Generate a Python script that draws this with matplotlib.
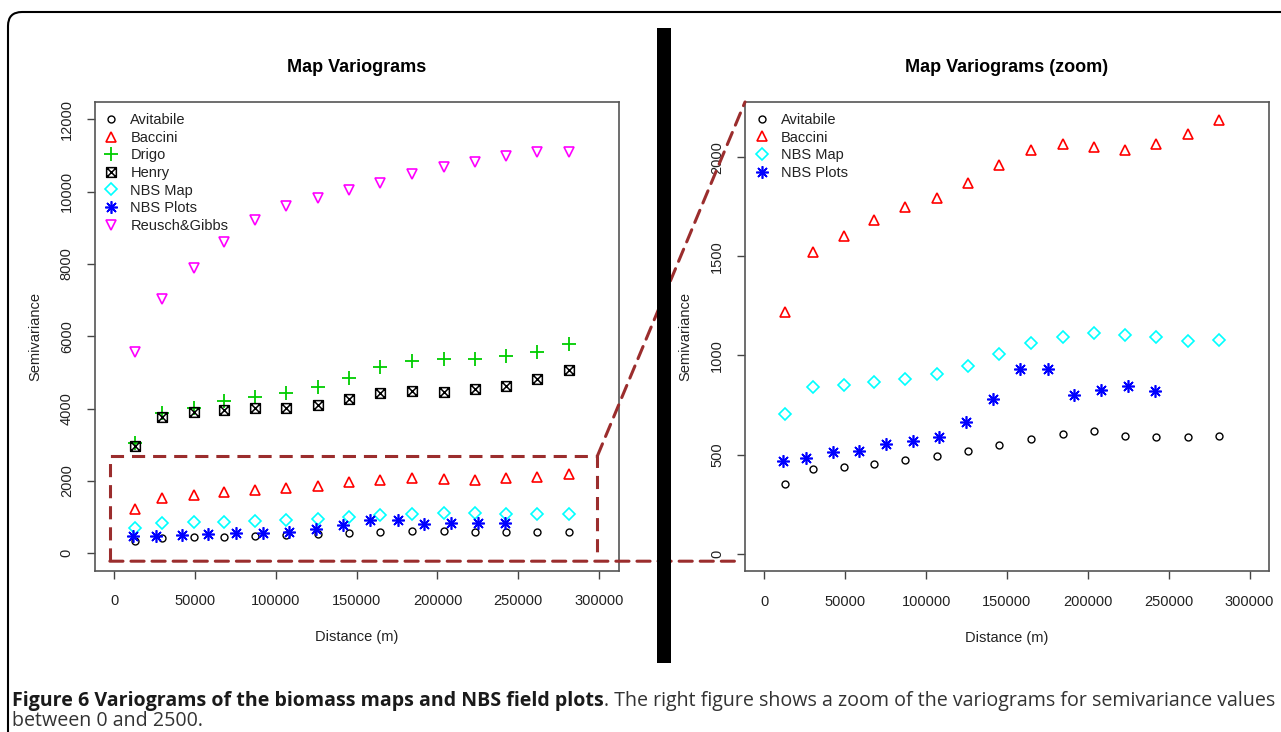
import numpy as np
import matplotlib
matplotlib.use("Agg")
import matplotlib.pyplot as plt
from matplotlib.path import Path
from matplotlib.patches import Rectangle, FancyBboxPatch, ConnectionPatch
from matplotlib.transforms import blended_transform_factory

plt.rcParams["font.family"] = ["Liberation Sans", "DejaVu Sans"]
plt.rcParams["font.size"] = 10.5
plt.rcParams["text.color"] = "#222222"
plt.rcParams["axes.labelcolor"] = "#222222"
plt.rcParams["xtick.color"] = "#444444"
plt.rcParams["ytick.color"] = "#444444"
plt.rcParams["xtick.labelcolor"] = "#222222"
plt.rcParams["ytick.labelcolor"] = "#222222"

# lag distances (m)
lags = [12700, 29900, 49200, 67800, 87200, 106500, 125900, 145200,
        164600, 184400, 203800, 223100, 242400, 261800, 281100]
lags_plots = [11500, 26000, 42100, 58300, 75200, 91800, 108000, 124900,
              141300, 158200, 175300, 191500, 208200, 225100, 241500]

# semivariance per map
avitabile = [350, 426, 436, 454, 473, 493, 517, 546, 579, 603, 617, 593, 590, 590, 593]
baccini = [1221, 1520, 1604, 1682, 1749, 1793, 1872, 1963, 2035, 2069, 2054, 2035, 2069, 2118, 2190]
drigo = [3046, 3877, 4015, 4209, 4329, 4440, 4597, 4855, 5160, 5308, 5382, 5382, 5465, 5566, 5797]
henry = [2972, 3775, 3895, 3951, 4015, 4015, 4089, 4274, 4422, 4477, 4458, 4541, 4634, 4809, 5068]
nbs_map = [706, 841, 851, 865, 880, 904, 948, 1005, 1063, 1091, 1111, 1101, 1091, 1071, 1076]
nbs_plots = [466, 481, 514, 519, 552, 568, 586, 664, 782, 931, 931, 802, 824, 846, 823]
reusch = [5566, 7028, 7898, 8602, 9222, 9593, 9815, 10037, 10250, 10500, 10685, 10815, 10991, 11111, 11093]

x_ticks = [0, 50000, 100000, 150000, 200000, 250000, 300000]
y_ticks_full = [0, 2000, 4000, 6000, 8000, 10000, 12000]
y_ticks_zoom = [0, 500, 1000, 1500, 2000]

# R pch 7: square with an X inside
sq_x = Path([(-1, -1), (1, -1), (1, 1), (-1, 1), (-1, -1), (-1, -1), (1, 1), (-1, 1), (1, -1)],
            [Path.MOVETO, Path.LINETO, Path.LINETO, Path.LINETO, Path.CLOSEPOLY,
             Path.MOVETO, Path.LINETO, Path.MOVETO, Path.LINETO])

styles = {
    "Avitabile": dict(marker="o", color="#000000", ms=5, mew=1.0, mfc="none"),
    "Baccini": dict(marker="^", color="#FF0000", ms=7, mew=1.2, mfc="none"),
    "Drigo": dict(marker="+", color="#00CD00", ms=10, mew=1.3),
    "Henry": dict(marker=sq_x, color="#000000", ms=7, mew=1.1, mfc="none"),
    "NBS Map": dict(marker="D", color="#00FFFF", ms=6.5, mew=1.2, mfc="none"),
    "NBS Plots": dict(marker=(8, 2, 0), color="#0000FF", ms=9, mew=1.2),
    "Reusch&Gibbs": dict(marker="v", color="#FF00FF", ms=7, mew=1.2, mfc="none"),
}

dash_col = "#9B2D2D"
dash_ls = (0, (4.3, 2.6))


def style_axes(ax, yticks, ylim, title):
    ax.set_xlim(-12000, 312000)
    ax.set_ylim(*ylim)
    ax.set_xticks(x_ticks)
    ax.set_xticklabels([str(t) for t in x_ticks])
    ax.set_yticks(yticks)
    ax.set_yticklabels([str(t) for t in yticks])
    ax.tick_params(axis="both", direction="out", length=6, width=1.0)
    ax.tick_params(axis="x", pad=11)
    ax.tick_params(axis="y", pad=9, labelrotation=90)
    plt.setp(ax.get_yticklabels(), va="center", ha="right")
    for sp in ax.spines.values():
        sp.set_edgecolor("#555555")
        sp.set_linewidth(1.2)
    ax.set_xlabel("Distance (m)", va="center")
    ax.xaxis.set_label_coords(0.5, -0.142)
    ax.set_ylabel("Semivariance", va="center")
    ax.yaxis.set_label_coords(-0.113, 0.5)
    ax.text(0.5, 1.073, title, transform=ax.transAxes, ha="center", va="center",
            fontsize=13, fontweight="bold", color="#000000")
    ax.legend(loc="upper left", bbox_to_anchor=(0, 1), frameon=False, borderaxespad=0,
              borderpad=0.75, handlelength=0.8, handletextpad=0.9, labelspacing=0.25,
              fontsize=10.5)


fig = plt.figure(figsize=(12.81, 7.32), dpi=100)
ax1 = fig.add_axes([0.0739, 0.2206, 0.409, 0.640])
ax2 = fig.add_axes([0.5816, 0.2200, 0.409, 0.6407])

full_series = [("Avitabile", lags, avitabile), ("Baccini", lags, baccini), ("Drigo", lags, drigo),
               ("Henry", lags, henry), ("NBS Map", lags, nbs_map), ("NBS Plots", lags_plots, nbs_plots),
               ("Reusch&Gibbs", lags, reusch)]
for name, xs, ys in full_series:
    ax1.plot(xs, ys, linestyle="none", label=name, **styles[name])

zoom_series = [("Avitabile", lags, avitabile), ("Baccini", lags, baccini),
               ("NBS Map", lags, nbs_map), ("NBS Plots", lags_plots, nbs_plots)]
for name, xs, ys in zoom_series:
    ax2.plot(xs, ys, linestyle="none", label=name, **styles[name])

style_axes(ax1, y_ticks_full, (-480, 12480), "Map Variograms")
style_axes(ax2, y_ticks_zoom, (-88, 2280), "Map Variograms (zoom)")

# dashed zoom box on the left plot and its connector lines to the right plot
zx = (-2600, 298900)
zy = (-222, 2690)
ax1.plot([zx[0], zx[0], zx[1], zx[1]], [zy[0], zy[1], zy[1], zy[0]], color=dash_col,
         lw=2.2, ls=dash_ls, clip_on=False, zorder=5)
con_top = ConnectionPatch(xyA=(zx[1], zy[1]), coordsA=ax1.transData, xyB=(0, 1), coordsB=ax2.transAxes,
                          color=dash_col, lw=2.2, ls=dash_ls, zorder=10)
fig.add_artist(con_top)
con_bot = ConnectionPatch(xyA=(zx[0], zy[0]), coordsA=ax1.transData, xyB=(-0.01, zy[0]),
                          coordsB=blended_transform_factory(ax2.transAxes, ax1.transData),
                          color=dash_col, lw=2.2, ls=dash_ls, zorder=10)
fig.add_artist(con_bot)

# black separator bar and outer rounded frame
fig.patches.append(Rectangle((6.57, 0.69), 0.14, 6.35, transform=fig.dpi_scale_trans,
                             facecolor="black", edgecolor="none", zorder=20))
fig.patches.append(FancyBboxPatch((0.08, -0.5), 13.5, 7.70, boxstyle="round,pad=0,rounding_size=0.14",
                                  transform=fig.dpi_scale_trans, facecolor="none",
                                  edgecolor="black", linewidth=1.5, zorder=20))

# caption: bold lead, regular text continues right after it
cap_size = 14.1
bold = fig.text(12 / 1281, 1 - 706 / 732, "Figure 6 Variograms of the biomass maps and NBS field plots",
                family="Open Sans", fontweight="bold", fontsize=cap_size, ha="left", va="baseline",
                color="#1a1a1a")
renderer = fig.canvas.get_renderer()
bb = bold.get_window_extent(renderer=renderer)
fig.text(bb.x1 / fig.bbox.width, 1 - 706 / 732,
         ". The right figure shows a zoom of the variograms for semivariance values",
         family="Open Sans", fontsize=cap_size, ha="left", va="baseline", color="#333333")
fig.text(12 / 1281, 1 - 726 / 732, "between 0 and 2500.", family="Open Sans", fontsize=cap_size,
         ha="left", va="baseline", color="#333333")

fig.savefig("out.png", dpi=100)
